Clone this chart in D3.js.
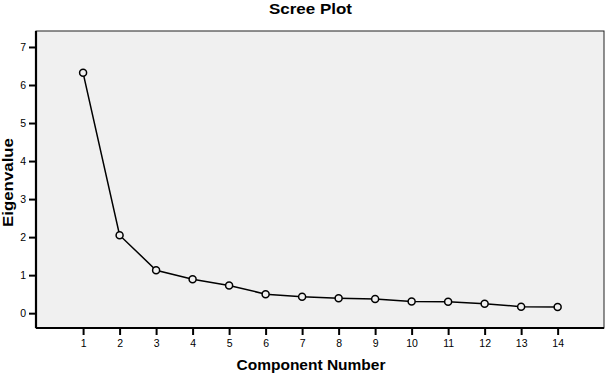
<!DOCTYPE html>
<html><head><meta charset="utf-8">
<script src="https://cdnjs.cloudflare.com/ajax/libs/d3/7.8.5/d3.min.js"></script>
<style>body{margin:0;background:#fff}svg{display:block;font-family:"Liberation Sans",Arial,sans-serif}</style>
</head><body><svg id="c" width="605" height="374"></svg>
<script>
const components = [1,2,3,4,5,6,7,8,9,10,11,12,13,14];
const eigenvalues = [6.32,2.05,1.13,0.89,0.73,0.50,0.43,0.39,0.37,0.31,0.30,0.25,0.17,0.16];
const yTicks = [0,1,2,3,4,5,6,7];
const title = "Scree Plot";
const xTitle = "Component Number";
const yTitle = "Eigenvalue";

const svg = d3.select("#c");
const L = 36, R = 604, T = 31, B = 328;
const x = d3.scaleLinear().domain([1 - 1.29, 14 + 1.27]).range([L, R]);
const y = d3.scaleLinear().domain([-0.39, 7.42]).range([B, T]);

svg.append("rect").attr("x", L).attr("y", T).attr("width", R - L).attr("height", B - T)
  .attr("fill", "#f0f0f0").attr("stroke", "#222").attr("stroke-width", 1);

const xa = svg.append("g").attr("transform", `translate(0,${B})`)
  .call(d3.axisBottom(x).tickValues(components).tickSize(7).tickPadding(5).tickFormat(d3.format("d")));
const ya = svg.append("g").attr("transform", `translate(${L},0)`)
  .call(d3.axisLeft(y).tickValues(yTicks).tickSize(7).tickPadding(3).tickFormat(d3.format("d")));
[xa, ya].forEach(a => {
  a.select(".domain").attr("stroke", "#000").attr("stroke-width", 2.2);
  a.selectAll(".tick line").attr("stroke", "#000").attr("stroke-width", 2);
  a.selectAll(".tick text").attr("fill", "#000").style("font-size", "10.5px")
   .style("font-family", '"Liberation Sans",Arial,sans-serif');
});
xa.select(".domain").attr("d", `M${L},0H${R}`);
ya.select(".domain").attr("d", `M0,${T}V${B}`);

const line = d3.line().x((d, i) => x(components[i])).y(d => y(d));
svg.append("path").datum(eigenvalues).attr("d", line)
  .attr("fill", "none").attr("stroke", "#000").attr("stroke-width", 1.5);
svg.selectAll("circle.pt").data(eigenvalues).join("circle").attr("class", "pt")
  .attr("cx", (d, i) => x(components[i])).attr("cy", d => y(d)).attr("r", 3.5)
  .attr("fill", "#f0f0f0").attr("stroke", "#000").attr("stroke-width", 1.5);

svg.append("text").attr("x", 310.5).attr("y", 14).attr("text-anchor", "middle")
  .attr("textLength", 83).attr("lengthAdjust", "spacingAndGlyphs")
  .style("font-size", "14px").style("font-weight", "bold").text(title);
svg.append("text").attr("x", 311).attr("y", 370).attr("text-anchor", "middle")
  .attr("textLength", 149).attr("lengthAdjust", "spacingAndGlyphs")
  .style("font-size", "14px").style("font-weight", "bold").text(xTitle);
svg.append("text").attr("transform", "translate(13,182.5) rotate(-90)").attr("text-anchor", "middle")
  .attr("textLength", 89).attr("lengthAdjust", "spacingAndGlyphs")
  .style("font-size", "14px").style("font-weight", "bold").text(yTitle);
</script></body></html>
